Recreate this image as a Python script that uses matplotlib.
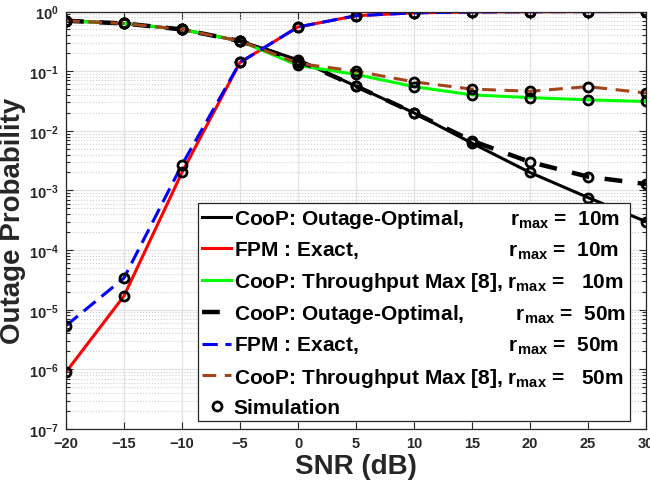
import matplotlib
matplotlib.use('Agg')
import matplotlib.pyplot as plt
from matplotlib.ticker import LogLocator, FuncFormatter, NullFormatter, MultipleLocator
import numpy as np

plt.rcParams['font.family'] = 'Liberation Sans'
plt.rcParams['font.weight'] = 'bold'
plt.rcParams['mathtext.fontset'] = 'custom'
plt.rcParams['mathtext.rm'] = 'Liberation Sans:bold'
plt.rcParams['mathtext.bf'] = 'Liberation Sans:bold'
plt.rcParams['mathtext.it'] = 'Liberation Sans:bold'
plt.rcParams['mathtext.default'] = 'bf'

# SNR axis (dB)
snr = [-20, -15, -10, -5, 0, 5, 10, 15, 20, 25, 30]

# r_max = 10 m
coop_opt_10 = [0.70, 0.63, 0.50, 0.32, 0.155, 0.056, 0.020, 0.0062, 0.0020, 0.00076, 0.00030]
fpm_10 = [9e-7, 1.7e-5, 2.0e-3, 0.14, 0.55, 0.85, 0.95, 0.98, 0.99, 0.995, 0.998]
thr_10 = [0.70, 0.63, 0.50, 0.32, 0.125, 0.088, 0.055, 0.040, 0.036, 0.033, 0.031]

# r_max = 50 m
coop_opt_50 = [0.70, 0.63, 0.50, 0.32, 0.15, 0.056, 0.020, 0.0068, 0.0030, 0.0017, 0.00128]
fpm_50 = [5.4e-6, 3.4e-5, 2.7e-3, 0.14, 0.55, 0.85, 0.95, 0.98, 0.99, 0.995, 0.998]
thr_50 = [0.70, 0.63, 0.50, 0.32, 0.135, 0.10, 0.066, 0.050, 0.046, 0.055, 0.043]

labels = [
    'CooP: Outage-Optimal,        r$_{max}$ =  10m',
    'FPM : Exact,                          r$_{max}$ =  10m',
    'CooP: Throughput Max [8], r$_{max}$ =   10m',
    'CooP: Outage-Optimal,         r$_{max}$ =  50m',
    'FPM : Exact,                          r$_{max}$ =  50m',
    'CooP: Throughput Max [8], r$_{max}$ =   50m',
    'Simulation',
]

brown = '#A3451C'
dark = '#262626'

fig = plt.figure(figsize=(6.5, 4.85), dpi=100)
ax = fig.add_axes([66/650, 55/485, 580/650, 417.5/485])

ax.plot(snr, coop_opt_10, '-', color='k', lw=2.2, label=labels[0])
ax.plot(snr, fpm_10, '-', color='r', lw=2.2, label=labels[1])
ax.plot(snr, thr_10, '-', color='#00FF00', lw=2.2, label=labels[2])
ax.plot(snr, coop_opt_50, '--', color='k', lw=3.2, dashes=(4, 3.5), label=labels[3])
ax.plot(snr, fpm_50, '--', color='b', lw=2.2, dashes=(5, 2.5), label=labels[4])
ax.plot(snr, thr_50, '--', color=brown, lw=2.2, dashes=(4.5, 2.8), label=labels[5])

sim = [coop_opt_10, fpm_10, thr_10, coop_opt_50, fpm_50, thr_50]
for k, s in enumerate(sim):
    ax.plot(snr, s, 'o', ms=6.5, mew=2, mec='k', mfc='none', ls='none',
            label=labels[6] if k == 0 else None)

ax.set_yscale('log')
ax.set_xlim(-20, 30)
ax.set_ylim(1e-7, 1)
ax.xaxis.set_major_locator(MultipleLocator(5))
ax.yaxis.set_major_locator(LogLocator(base=10, numticks=10))
ax.yaxis.set_minor_locator(LogLocator(base=10, subs=np.arange(2, 10), numticks=100))
ax.yaxis.set_minor_formatter(NullFormatter())
ax.yaxis.set_major_formatter(FuncFormatter(lambda v, p: r'$\mathbf{10^{%d}}$' % round(np.log10(v))))

ax.grid(True, which='major', color='#e3e3e3', lw=0.9)
ax.grid(True, which='minor', axis='y', color='#cfcfcf', lw=0.8, ls=':')
ax.set_axisbelow(True)

ax.tick_params(which='both', direction='in', top=True, right=True, colors=dark,
               labelsize=10.5, width=0.8)
ax.tick_params(which='major', length=5, pad=5)
ax.tick_params(which='minor', length=3)
for sp in ax.spines.values():
    sp.set_color(dark)
    sp.set_linewidth(0.9)

ax.set_xlabel('SNR (dB)', fontsize=20, fontweight='bold', color=dark, labelpad=2)
ax.set_ylabel('Outage Probability', fontsize=20, fontweight='bold', color=dark, labelpad=2)

leg = ax.legend(loc='lower right', bbox_to_anchor=(0.9724, 0.019), borderaxespad=0,
                fontsize=15, handlelength=1.4, handletextpad=0.12, labelspacing=0.45,
                borderpad=0.2, fancybox=False, framealpha=1, edgecolor=dark)
leg.get_frame().set_linewidth(0.9)

fig.savefig('out.png', dpi=100)
